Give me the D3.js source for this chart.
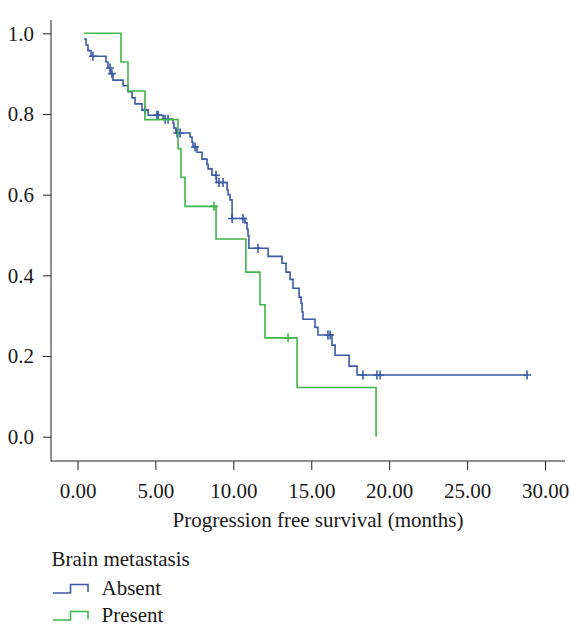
<!DOCTYPE html>
<html lang="en">
<head>
<meta charset="UTF-8">
<title>Progression free survival by brain metastasis</title>
<script src="https://d3js.org/d3.v7.min.js"></script>
<style>
    body { margin: 0; background: #fff; }
    text { font-family: "Liberation Serif", "DejaVu Serif", serif; fill: #1a1a1a; }
</style>
</head>
<body>
<div id="chart"></div>
<script>
    const width = 571;
    const height = 626;

    // Absent group: step times (months) and survival after each step
    const absentTime = [0.42, 0.55, 0.67, 0.87, 1.83, 1.96, 2.12, 2.28, 2.92, 3.24, 3.50, 3.69, 4.14, 4.53,
        5.49, 6.13, 6.19, 6.32, 7.22, 7.35, 7.41, 7.67, 7.99, 8.31, 8.38, 8.63, 8.92, 9.60, 9.66, 9.79,
        9.92, 10.75, 10.88, 10.94, 11.00, 12.23, 13.12, 13.38, 13.64, 13.83, 14.22, 14.35, 14.41, 14.47,
        15.24, 15.43, 16.33, 16.53, 17.43, 17.94];
    const absentSurv = [0.986, 0.971, 0.957, 0.943, 0.929, 0.914, 0.900, 0.884, 0.870, 0.855, 0.840, 0.825, 0.810, 0.797,
        0.787, 0.777, 0.765, 0.753, 0.743, 0.730, 0.718, 0.705, 0.688, 0.675, 0.664, 0.648, 0.630, 0.612, 0.600, 0.587,
        0.541, 0.530, 0.515, 0.498, 0.467, 0.447, 0.430, 0.408, 0.390, 0.368, 0.346, 0.331, 0.309, 0.291,
        0.271, 0.252, 0.227, 0.202, 0.175, 0.153];
    const absentCensor = [0.99, 2.09, 2.21, 4.33, 5.10, 5.17, 5.62, 5.81, 6.39, 6.58, 7.54, 8.89, 9.08, 9.34,
        9.92, 10.62, 11.58, 16.07, 16.21, 18.32, 19.22, 19.42, 28.85];

    // Present group
    const presentTime = [0.42, 2.79, 3.24, 4.33, 6.45, 6.64, 6.90, 8.89, 10.81, 11.71, 12.03, 14.09, 19.16];
    const presentSurv = [1.0, 0.929, 0.857, 0.786, 0.714, 0.643, 0.571, 0.490, 0.408, 0.327, 0.245, 0.122, 0.0];
    const presentCensor = [8.76, 13.51];

    const xTicks = [0, 5, 10, 15, 20, 25, 30];
    const yTicks = [0, 0.2, 0.4, 0.6, 0.8, 1.0];
    const groups = ["Absent", "Present"];
    const colors = ["#3b5ba8", "#3fb54b"];

    const svg = d3.select("#chart")
        .append("svg")
        .attr("width", width)
        .attr("height", height);

    const x = d3.scaleLinear().domain([0, 30]).range([77.5, 545]);
    const y = d3.scaleLinear().domain([0, 1]).range([436.7, 33.3]);

    const axisY0 = 461;
    const axisX0 = 51;
    const fontSize = "21px";

    // axes
    const gx = svg.append("g")
        .attr("transform", `translate(0,${axisY0})`)
        .call(d3.axisBottom(x).tickValues(xTicks).tickFormat(d3.format(".2f")).tickSize(9).tickPadding(13));
    const gy = svg.append("g")
        .attr("transform", `translate(${axisX0},0)`)
        .call(d3.axisLeft(y).tickValues(yTicks).tickFormat(d3.format(".1f")).tickSize(8).tickPadding(9));
    [gx, gy].forEach(g => {
        g.select(".domain").remove();
        g.selectAll("line").attr("stroke", "#222");
        g.selectAll("text").style("font-size", fontSize).attr("fill", "#1a1a1a");
    });

    svg.append("line")
        .attr("x1", axisX0).attr("x2", axisX0)
        .attr("y1", 20).attr("y2", axisY0 + 0.5)
        .attr("stroke", "#222");
    svg.append("line")
        .attr("x1", axisX0).attr("x2", 565)
        .attr("y1", axisY0).attr("y2", axisY0)
        .attr("stroke", "#222");

    svg.append("text")
        .attr("x", 318)
        .attr("y", 527)
        .attr("text-anchor", "middle")
        .style("font-size", fontSize)
        .text("Progression free survival (months)");

    const line = d3.line()
        .x(d => x(d[0]))
        .y(d => y(d[1]))
        .curve(d3.curveStepAfter);

    function survAt(times, surv, t) {
        let s = surv[0];
        times.forEach((tt, i) => { if (tt <= t) s = surv[i]; });
        return s;
    }

    const series = [
        { times: absentTime, surv: absentSurv, censor: absentCensor },
        { times: presentTime, surv: presentSurv, censor: presentCensor }
    ];

    series.forEach((s, k) => {
        const pts = s.times.map((t, i) => [t, s.surv[i]]);
        const lastC = d3.max(s.censor);
        if (lastC > d3.max(s.times)) pts.push([lastC, s.surv[s.surv.length - 1]]);

        svg.append("path")
            .datum(pts)
            .attr("d", line)
            .attr("fill", "none")
            .attr("stroke", colors[k])
            .attr("stroke-width", 1.6);

        svg.selectAll(".cens" + k)
            .data(s.censor)
            .enter()
            .append("path")
            .attr("class", "cens" + k)
            .attr("d", t => {
                const cx = x(t), cy = y(survAt(s.times, s.surv, t));
                return `M${cx},${cy - 4.5}V${cy + 4.5}M${cx - 4},${cy}H${cx + 4}`;
            })
            .attr("stroke", colors[k])
            .attr("stroke-width", 1.6);
    });

    // legend
    svg.append("text")
        .attr("x", 51.5)
        .attr("y", 566)
        .style("font-size", fontSize)
        .text("Brain metastasis");

    const legendY = [593, 620];
    groups.forEach((g, k) => {
        const ly = legendY[k];
        svg.append("path")
            .attr("d", `M53,${ly}H70.5V${ly - 8.5}H88V${ly - 1}`)
            .attr("fill", "none")
            .attr("stroke", colors[k])
            .attr("stroke-width", 1.6);
        svg.append("text")
            .attr("x", 101.5)
            .attr("y", ly + 2)
            .style("font-size", fontSize)
            .text(g);
    });
</script>
</body>
</html>
